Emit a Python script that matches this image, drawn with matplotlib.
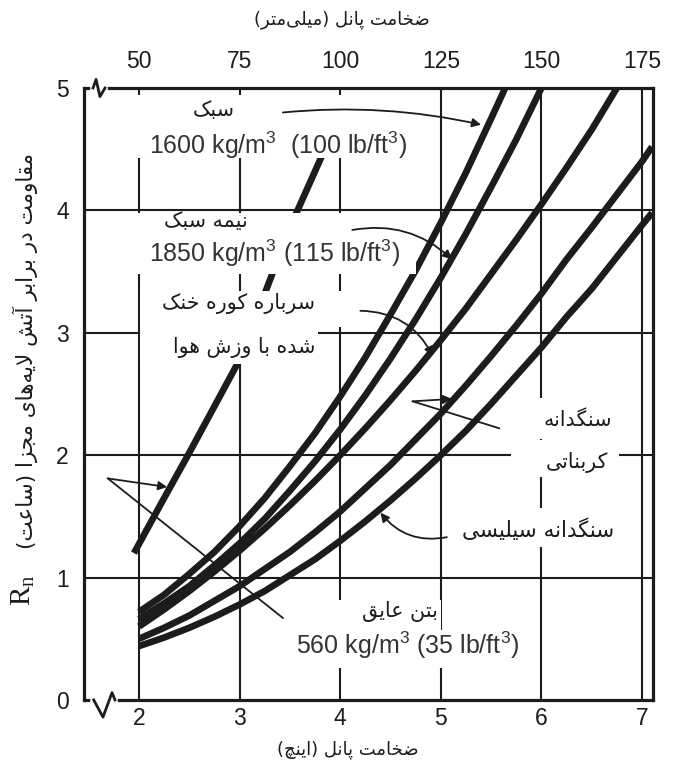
import matplotlib
matplotlib.use("Agg")
import matplotlib.pyplot as plt
from matplotlib.patches import Rectangle
from matplotlib.lines import Line2D

plt.rcParams['mathtext.fontset'] = 'custom'
plt.rcParams['mathtext.rm'] = 'Liberation Sans'
plt.rcParams['mathtext.it'] = 'Liberation Sans:italic'

# --- Persian shaping (matplotlib has no bidi / joining support) ---
FORMS = {
    'ا': ('\uFE8D', '\uFE8E', None, None),
    'آ': ('\uFE81', '\uFE82', None, None),
    'ب': ('\uFE8F', '\uFE90', '\uFE91', '\uFE92'),
    'پ': ('\uFB56', '\uFB57', '\uFB58', '\uFB59'),
    'ت': ('\uFE95', '\uFE96', '\uFE97', '\uFE98'),
    'ج': ('\uFE9D', '\uFE9E', '\uFE9F', '\uFEA0'),
    'چ': ('\uFB7A', '\uFB7B', '\uFB7C', '\uFB7D'),
    'خ': ('\uFEA5', '\uFEA6', '\uFEA7', '\uFEA8'),
    'د': ('\uFEA9', '\uFEAA', None, None),
    'ر': ('\uFEAD', '\uFEAE', None, None),
    'ز': ('\uFEAF', '\uFEB0', None, None),
    'س': ('\uFEB1', '\uFEB2', '\uFEB3', '\uFEB4'),
    'ش': ('\uFEB5', '\uFEB6', '\uFEB7', '\uFEB8'),
    'ض': ('\uFEBD', '\uFEBE', '\uFEBF', '\uFEC0'),
    'ع': ('\uFEC9', '\uFECA', '\uFECB', '\uFECC'),
    'ق': ('\uFED5', '\uFED6', '\uFED7', '\uFED8'),
    'ک': ('\uFB8E', '\uFB8F', '\uFB90', '\uFB91'),
    'گ': ('\uFB92', '\uFB93', '\uFB94', '\uFB95'),
    'ل': ('\uFEDD', '\uFEDE', '\uFEDF', '\uFEE0'),
    'م': ('\uFEE1', '\uFEE2', '\uFEE3', '\uFEE4'),
    'ن': ('\uFEE5', '\uFEE6', '\uFEE7', '\uFEE8'),
    'ه': ('\uFEE9', '\uFEEA', '\uFEEB', '\uFEEC'),
    'و': ('\uFEED', '\uFEEE', None, None),
    'ی': ('\uFBFC', '\uFBFD', '\uFBFE', '\uFBFF'),
}
LAM_ALEF = {'ا': ('\uFEFB', '\uFEFC'), 'آ': ('\uFEF5', '\uFEF6')}


def links_forward(c):
    return c in FORMS and FORMS[c][2] is not None


def fa(text):
    chars = list(text)
    n = len(chars)
    out = []
    i = 0
    while i < n:
        c = chars[i]
        prev_links = i > 0 and links_forward(chars[i - 1])
        if c == 'ل' and i + 1 < n and chars[i + 1] in LAM_ALEF:
            iso, fin = LAM_ALEF[chars[i + 1]]
            out.append(fin if prev_links else iso)
            i += 2
            continue
        if c in FORMS:
            iso, fin, ini, med = FORMS[c]
            next_links = ini is not None and i + 1 < n and chars[i + 1] in FORMS
            if prev_links and next_links:
                out.append(med)
            elif prev_links:
                out.append(fin)
            elif next_links:
                out.append(ini)
            else:
                out.append(iso)
        elif c != '\u200c':
            out.append(c)
        i += 1
    mirror = {'(': ')', ')': '('}
    return ''.join(mirror.get(c, c) for c in reversed(out))


# --- data: fire resistance (hours) vs slab thickness (inches) ---
inch_ticks = [2, 3, 4, 5, 6, 7]
mm_labels = ['50', '75', '100', '125', '150', '175']
hour_ticks = [0, 1, 2, 3, 4, 5]

light_x = [2.0, 2.25, 2.5, 2.75, 3.0, 3.25, 3.5, 3.75, 4.0, 4.25, 4.5, 4.75, 5.0, 5.25, 5.5, 5.64]
light_y = [0.72, 0.86, 1.03, 1.21, 1.42, 1.65, 1.91, 2.18, 2.48, 2.80, 3.15, 3.51, 3.90, 4.31, 4.75, 5.0]

semi_x = [2.0, 2.25, 2.5, 2.75, 3.0, 3.25, 3.5, 3.75, 4.0, 4.25, 4.5, 4.75, 5.0, 5.25, 5.5, 5.75, 6.0]
semi_y = [0.66, 0.79, 0.93, 1.10, 1.28, 1.48, 1.71, 1.95, 2.21, 2.49, 2.79, 3.11, 3.45, 3.81, 4.19, 4.58, 5.0]

slag_x = [2.0, 2.25, 2.5, 2.75, 3.0, 3.25, 3.5, 3.75, 4.0, 4.25, 4.5, 4.75, 5.0, 5.25, 5.5, 5.75, 6.0, 6.25, 6.5, 6.75]
slag_y = [0.60, 0.74, 0.89, 1.05, 1.22, 1.40, 1.59, 1.79, 2.00, 2.22, 2.45, 2.69, 2.94, 3.20, 3.48, 3.76, 4.05, 4.35, 4.66, 5.0]

carb_x = [2.0, 2.25, 2.5, 2.75, 3.0, 3.25, 3.5, 3.75, 4.0, 4.25, 4.5, 4.75, 5.0, 5.25, 5.5, 5.75, 6.0, 6.25, 6.5, 6.75, 7.0, 7.1]
carb_y = [0.50, 0.59, 0.69, 0.81, 0.93, 1.07, 1.21, 1.37, 1.54, 1.73, 1.92, 2.13, 2.34, 2.57, 2.81, 3.06, 3.32, 3.60, 3.86, 4.13, 4.40, 4.52]

sil_x = [2.0, 2.25, 2.5, 2.75, 3.0, 3.25, 3.5, 3.75, 4.0, 4.25, 4.5, 4.75, 5.0, 5.25, 5.5, 5.75, 6.0, 6.25, 6.5, 6.75, 7.0, 7.1]
sil_y = [0.44, 0.51, 0.59, 0.68, 0.78, 0.89, 1.02, 1.15, 1.30, 1.46, 1.63, 1.81, 2.00, 2.20, 2.42, 2.65, 2.88, 3.13, 3.36, 3.62, 3.88, 3.98]

ins_x = [1.95, 2.25, 2.5, 2.75, 3.0, 3.25, 3.5, 3.82]
ins_y = [1.20, 1.65, 2.02, 2.40, 2.78, 3.32, 3.86, 4.45]

INK = '#1c1c1c'
LATIN = ['Liberation Sans', 'DejaVu Sans']
ARABIC = ['DejaVu Sans']

fig = plt.figure(figsize=(6.75, 7.72), dpi=100)
ax = fig.add_axes([0.1244, 0.0933, 0.843, 0.7927])
ax.set_xlim(1.453, 7.109)
ax.set_ylim(0, 5)

# grid
for x in inch_ticks:
    ax.axvline(x, color=INK, lw=1.5, zorder=1)
for y in hour_ticks[1:-1]:
    ax.axhline(y, color=INK, lw=1.5, zorder=1)

# curves
for xs, ys in [(light_x, light_y), (semi_x, semi_y), (slag_x, slag_y),
               (carb_x, carb_y), (sil_x, sil_y), (ins_x, ins_y)]:
    ax.plot(xs, ys, color=INK, lw=4.8, solid_capstyle='butt', zorder=2)

# white panels behind the labels
for x0, y0, w, h in [(1.91, 4.43, 2.90, 0.51), (1.80, 3.48, 2.95, 0.50),
                     (2.01, 3.05, 2.09, 0.29), (2.01, 2.745, 1.77, 0.31),
                     (5.70, 2.13, 1.07, 0.34), (5.70, 1.82, 1.07, 0.30),
                     (5.12, 1.25, 1.67, 0.32), (3.95, 0.57, 1.05, 0.25),
                     (3.45, 0.26, 2.44, 0.31)]:
    ax.add_patch(Rectangle((x0, y0), w, h, facecolor='white', edgecolor='none', zorder=3))

for s in ax.spines.values():
    s.set_linewidth(2.3)
    s.set_color(INK)

ax.set_xticks(inch_ticks)
ax.set_yticks(hour_ticks)
ax.tick_params(length=0, labelsize=16.5, colors=INK)
ax.tick_params(axis='x', pad=5)
ax.tick_params(axis='y', pad=11)
for lab in ax.get_xticklabels() + ax.get_yticklabels():
    lab.set_fontfamily(LATIN)

top = ax.twiny()
top.set_xlim(ax.get_xlim())
top.set_xticks(inch_ticks)
top.set_xticklabels(mm_labels, fontfamily=LATIN)
top.tick_params(length=0, labelsize=16.5, colors=INK, pad=11)
for s in top.spines.values():
    s.set_visible(False)

# axis breaks on the left
tr = ax.get_xaxis_transform()
breaks = [
    ((1.545, 1.765), 0.0, [(1.55, 0.0), (1.642, -0.028), (1.732, 0.012), (1.761, 0.0)]),
    ((1.540, 1.665), 1.0, [(1.543, 1.0), (1.573, 1.014), (1.612, 0.986), (1.662, 1.0)]),
]
for (xa, xb), yb, pts in breaks:
    ax.add_line(Line2D([xa, xb], [yb, yb], transform=tr, color='white', lw=4,
                       clip_on=False, zorder=6))
    ax.add_line(Line2D([p[0] for p in pts], [p[1] for p in pts], transform=tr,
                       color=INK, lw=2.0, clip_on=False, zorder=7))

# labels on the chart
fs = 14.8
fl = 18
ax.text(2.74, 4.82, fa('سبک'), fontsize=fs, family=ARABIC, ha='center', va='center', color=INK, zorder=5)
ax.text(3.38, 4.53, r'1600 kg/m$^3$  (100 lb/ft$^3$)', fontsize=fl, family=LATIN, ha='center', va='center', color='#333', zorder=5)
ax.text(2.66, 3.91, fa('نیمه سبک'), fontsize=fs, family=ARABIC, ha='center', va='center', color=INK, zorder=5)
ax.text(3.35, 3.65, r'1850 kg/m$^3$ (115 lb/ft$^3$)', fontsize=fl, family=LATIN, ha='center', va='center', color='#333', zorder=5)
ax.text(3.75, 3.24, fa('سرباره کوره خنک'), fontsize=fs, family=ARABIC, ha='right', va='center', color=INK, zorder=5)
ax.text(3.75, 2.88, fa('شده با وزش هوا'), fontsize=fs, family=ARABIC, ha='right', va='center', color=INK, zorder=5)
ax.text(6.70, 2.29, fa('سنگدانه'), fontsize=fs, family=ARABIC, ha='right', va='center', color=INK, zorder=5)
ax.text(6.66, 1.94, fa('کربناتی'), fontsize=fs, family=ARABIC, ha='right', va='center', color=INK, zorder=5)
ax.text(6.72, 1.39, fa('سنگدانه سیلیسی'), fontsize=15.5, family=ARABIC, ha='right', va='center', color=INK, zorder=5)
ax.text(4.97, 0.72, fa('بتن عایق'), fontsize=fs, family=ARABIC, ha='right', va='center', color=INK, zorder=5)
ax.text(4.67, 0.45, r'560 kg/m$^3$ (35 lb/ft$^3$)', fontsize=fl, family=LATIN, ha='center', va='center', color='#333', zorder=5)

# leader arrows
arrow = dict(arrowstyle='-|>', color=INK, lw=1.3, shrinkA=0, shrinkB=0, mutation_scale=13)
for tip, start, rad in [((5.40, 4.70), (3.43, 4.80), -0.08),
                        ((5.11, 3.60), (4.12, 3.84), -0.25),
                        ((4.92, 2.81), (4.20, 3.18), -0.3),
                        ((4.40, 1.53), (5.06, 1.33), -0.3)]:
    ax.annotate('', xy=tip, xytext=start,
                arrowprops=dict(arrow, connectionstyle=f'arc3,rad={rad}'), zorder=6)

# bent leaders: label -> corner -> arrow onto the curve
for label_end, corner, tip in [((5.58, 2.22), (4.72, 2.44), (5.11, 2.46)),
                               ((3.43, 0.67), (1.69, 1.81), (2.28, 1.74))]:
    ax.plot([label_end[0], corner[0]], [label_end[1], corner[1]], color=INK, lw=1.3, zorder=6)
    ax.annotate('', xy=tip, xytext=corner,
                arrowprops=dict(arrow, connectionstyle='arc3,rad=0'), zorder=6)

# axis titles
fig.text(0.507, 0.974, fa('ضخامت پانل (میلی\u200cمتر)'), fontsize=13, family=ARABIC,
         ha='center', va='center', color=INK)
fig.text(0.515, 0.029, fa('ضخامت پانل (اینچ)'), fontsize=13, family=ARABIC,
         ha='center', va='center', color=INK)
fig.text(0.037, 0.545, fa('مقاومت در برابر آتش لایه\u200cهای مجزا (ساعت)'), fontsize=15.5,
         family=ARABIC, rotation=90, ha='center', va='center', color=INK)
fig.text(0.035, 0.235, r'$\mathregular{R_n}$', fontsize=21, family='Liberation Serif',
         rotation=90, ha='center', va='center', color=INK)

fig.savefig('out.png', dpi=100)
